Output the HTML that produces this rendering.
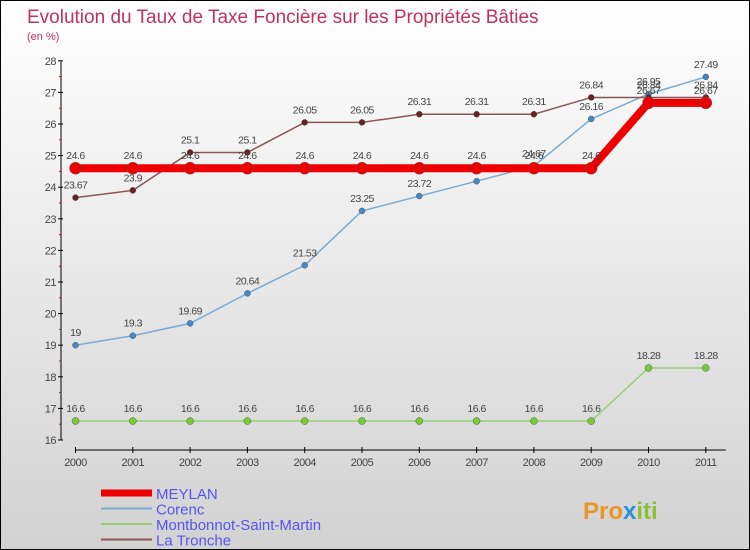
<!DOCTYPE html>
<html><head><meta charset="utf-8"><style>
body{margin:0}
#c{position:relative;width:748px;height:548px;border:1px solid #000;background:linear-gradient(#ffffff,#d2d2d2);font-family:"Liberation Sans",sans-serif;overflow:hidden}
</style></head><body>
<div id="c">
<svg id="s" width="748" height="548"></svg>
</div>
<script>
const years=["2000","2001","2002","2003","2004","2005","2006","2007","2008","2009","2010","2011"];
const meylan=[24.6,24.6,24.6,24.6,24.6,24.6,24.6,24.6,24.6,24.6,26.67,26.67];
const corenc=[19,19.3,19.69,20.64,21.53,23.25,23.72,24.19,24.67,26.16,26.95,27.49];
const montbonnot=[16.6,16.6,16.6,16.6,16.6,16.6,16.6,16.6,16.6,16.6,18.28,18.28];
const tronche=[23.67,23.9,25.1,25.1,26.05,26.05,26.31,26.31,26.31,26.84,26.84,26.84];
const yTicks=[16,17,18,19,20,21,22,23,24,25,26,27,28];
const NS="http://www.w3.org/2000/svg";
const s=document.getElementById('s');
function X(i){return 74.5+i*57.3;}
function Y(v){return 439-(v-16)*31.6;}
function mk(t,a,p){const e=document.createElementNS(NS,t);for(const k in a)e.setAttribute(k,a[k]);(p||s).appendChild(e);return e;}
function txt(x,y,str,a){const e=mk('text',Object.assign({x:x,y:y},a));e.textContent=str;return e;}
let t=txt(26,22,"Evolution du Taux de Taxe Foncière sur les Propriétés Bâties",{fill:"#c0325e","font-size":"19"});


t=txt(26,39,"(en %)",{fill:"#c0325e","font-size":"11"});


let ax=mk('line',{x1:60,y1:Y(28),x2:60,y2:Y(16),stroke:"#000"});


yTicks.forEach(v=>{mk('line',{x1:57,x2:62,y1:Y(v),y2:Y(v),stroke:"#000"});
 if(v<28)mk('line',{x1:58,x2:60,y1:Y(v+0.5),y2:Y(v+0.5),stroke:"#e00"});
 const l=txt(55,Y(v)+4,String(v),{fill:"#444","font-size":"11","text-anchor":"end","letter-spacing":"-0.5"});
 
 });
ax=mk('line',{x1:X(0),y1:449,x2:X(11)+20,y2:449,stroke:"#000"});


years.forEach((y,i)=>{mk('line',{x1:X(i),x2:X(i),y1:446,y2:452,stroke:"#000"});
 const l=txt(X(i),465,y,{fill:"#444","font-size":"11","text-anchor":"middle","letter-spacing":"-0.5"});
 
 });
function series(data,color,w,r,name,dot){
 const g=mk('g',{});
 
 
 mk('polyline',{points:data.map((v,i)=>X(i)+","+Y(v)).join(" "),fill:"none",stroke:color,"stroke-width":w},g);
 data.forEach((v,i)=>{const c=mk('circle',{cx:X(i),cy:Y(v),r:r,fill:dot,stroke:"#555","stroke-width":0.5},g);
  
  
  txt(X(i),Y(v)-9,String(v),{fill:"#444","font-size":"10.5","text-anchor":"middle","letter-spacing":"-0.5"},g);});
}
series(montbonnot,"#99cc77",1.5,3.5,"montbonnot-series","#77cc33");
series(corenc,"#7aaad0",1.5,3,"corenc-series","#4488cc");
series(tronche,"#8a5555",1.5,3,"la-tronche-series","#662222");
series(meylan,"#ee0000",8,6,"meylan-series","#ee0000");
const leg=[["MEYLAN","#ee0000",7],["Corenc","#7aaad0",2],["Montbonnot-Saint-Martin","#99cc77",2],["La Tronche","#8a5555",2]];
leg.forEach((l,i)=>{const g=mk('g',{});
 
 
 const y=492+i*15.5;
 mk('line',{x1:100,x2:151,y1:y,y2:y,stroke:l[1],"stroke-width":l[2]},g);
 txt(155,y+6,l[0],{fill:"#5555ee","font-size":"15"},g);});
t=mk('text',{x:582,y:518,"font-size":"24","font-weight":"bold"});


t.innerHTML='<tspan fill="#e8952a">Pro</tspan><tspan fill="#2c8fd8">x</tspan><tspan fill="#88c03a">iti</tspan>';
</script>
</body></html>
